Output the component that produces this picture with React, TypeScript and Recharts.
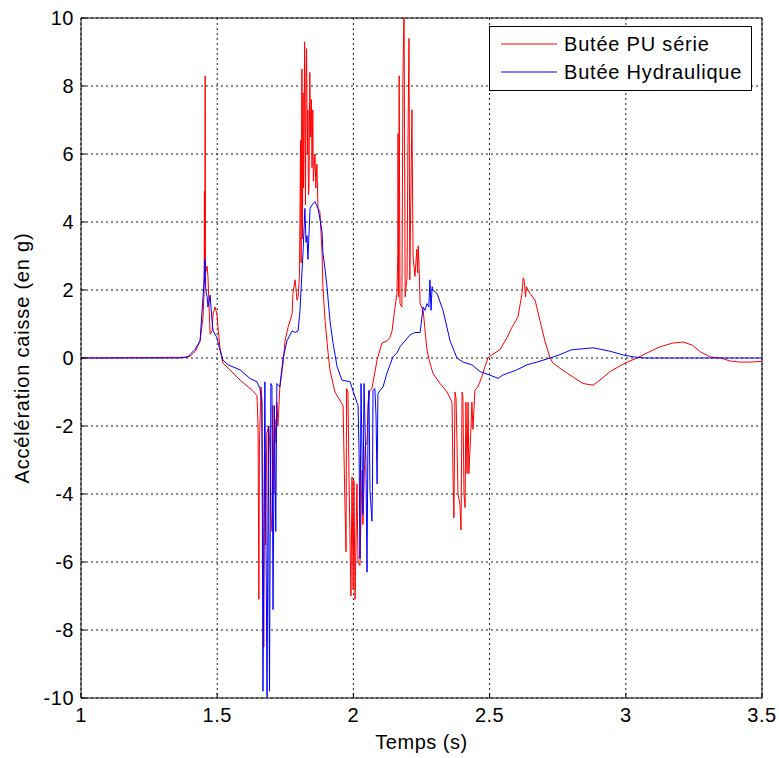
import { LineChart, Line, XAxis, YAxis, CartesianGrid, ReferenceLine, Legend } from "recharts";

const FONT = "Arial, 'Liberation Sans', sans-serif";

const timeTicks = [1, 1.5, 2, 2.5, 3, 3.5];
const accelTicks = [-10, -8, -6, -4, -2, 0, 2, 4, 6, 8, 10];

const seriesNames = ["Butée PU série", "Butée Hydraulique"];
const seriesColors = ["#ff0000", "#0000ff"];

// Butée PU série (red)
const puTime = [
  1.0, 1.38, 1.4, 1.42, 1.437, 1.448, 1.452, 1.453, 1.454, 1.456, 1.457, 1.463, 1.466, 1.474, 1.481,
  1.485, 1.492, 1.499, 1.503, 1.51, 1.521, 1.547, 1.584, 1.628, 1.646, 1.65, 1.653, 1.655, 1.661,
  1.664, 1.667, 1.671, 1.674, 1.678, 1.682, 1.69, 1.694, 1.697, 1.701, 1.704, 1.708, 1.712, 1.716,
  1.719, 1.723, 1.73, 1.742, 1.749, 1.76, 1.775, 1.778, 1.782, 1.786, 1.793, 1.797, 1.802, 1.806,
  1.808, 1.811, 1.813, 1.815, 1.817, 1.819, 1.821, 1.824, 1.826, 1.828, 1.831, 1.833, 1.835, 1.837,
  1.84, 1.843, 1.846, 1.848, 1.851, 1.853, 1.855, 1.859, 1.862, 1.866, 1.87, 1.877, 1.885, 1.888,
  1.896, 1.907, 1.914, 1.932, 1.962, 1.969, 1.973, 1.975, 1.98, 1.984, 1.991, 1.995, 1.999, 2.002,
  2.006, 2.013, 2.017, 2.024, 2.032, 2.035, 2.043, 2.05, 2.054, 2.061, 2.068, 2.087, 2.098, 2.105,
  2.123, 2.134, 2.142, 2.145, 2.153, 2.16, 2.163, 2.164, 2.166, 2.168, 2.171, 2.178, 2.182, 2.186,
  2.19, 2.197, 2.2, 2.204, 2.207, 2.215, 2.219, 2.226, 2.233, 2.236, 2.238, 2.241, 2.245, 2.256,
  2.27, 2.281, 2.292, 2.318, 2.344, 2.362, 2.366, 2.369, 2.373, 2.377, 2.384, 2.391, 2.395, 2.399,
  2.402, 2.406, 2.41, 2.413, 2.417, 2.421, 2.424, 2.432, 2.435, 2.439, 2.446, 2.457, 2.472, 2.483,
  2.494, 2.509, 2.538, 2.564, 2.582, 2.604, 2.619, 2.623, 2.627, 2.632, 2.635, 2.648, 2.667, 2.685,
  2.703, 2.722, 2.733, 2.758, 2.795, 2.843, 2.88, 2.905, 2.942, 2.997, 3.041, 3.078, 3.126, 3.173,
  3.21, 3.244, 3.274, 3.31, 3.347, 3.384, 3.419, 3.457, 3.5,
];
const puAccel = [
  0, 0.02, 0.05, 0.2, 0.5, 1.2, 2.0, 4.9, 2.2, 8.3, 2.5, 2.7, 2.4, 0.7, 0.8,
  1.3, 1.5, 1.3, 0.9, 0.3, -0.15, -0.35, -0.65, -0.95, -1.1, -2.0, -7.1, -2.5, -0.85,
  -1.2, -4.0, -8.5, -2.8, -5.5, -2.2, -2.0, -2.8, -4.5, -5.1, -1.4, -4.0, -1.8, -2.5,
  -1.3, -2.0, -0.85, -0.15, 0.5, 0.9, 1.3, 1.9, 2.1, 2.3, 1.7, 1.8, 2.4, 6.4,
  2.8, 8.5, 3.5, 7.8, 5.0, 6.9, 9.3, 4.5, 8.2, 9.1, 6.0, 7.3, 4.8, 5.0,
  8.4, 6.5, 7.6, 5.6, 7.3, 5.2, 5.5, 6.0, 5.0, 5.7, 4.4, 4.3, 3.1, 2.1,
  1.1, 0.15, -0.35, -1.0, -1.4, -4.3, -5.7, -0.9, -1.0, -3.6, -7.0, -3.5, -6.8, -3.6,
  -7.1, -3.7, -6.0, -6.1, -3.3, -4.9, -2.6, -2.5, -1.3, -0.95, -0.9, -0.05, 0.25, 0.44,
  0.5, 0.6, 0.8, 1.0, 1.5, 1.9, 3.1, 6.6, 1.8, 8.3, 1.6, 1.5, 8.3, 10.5,
  1.8, 2.4, 6.1, 9.4, 2.3, 7.3, 3.0, 2.4, 3.2, 2.5, 3.3, 2.7, 1.6, 1.4,
  0.24, -0.15, -0.45, -0.75, -1.0, -1.3, -3.6, -4.7, -1.0, -1.2, -4.0, -4.3, -5.06, -1.0,
  -1.15, -4.0, -4.4, -1.3, -3.4, -1.3, -3.4, -2.0, -1.3, -2.1, -0.95, -0.85, -0.55, -0.25,
  0.0, 0.1, 0.24, 0.6, 0.9, 1.2, 1.9, 2.35, 2.3, 1.8, 2.1, 1.9, 1.7, 1.1,
  0.5, 0.0, -0.15, -0.3, -0.5, -0.75, -0.8, -0.65, -0.4, -0.15, 0.0, 0.15, 0.33, 0.44,
  0.47, 0.38, 0.18, 0.03, 0.0, -0.09, -0.12, -0.12, -0.1,
];

// Butée Hydraulique (blue)
const hydTime = [
  1.0, 1.36, 1.393, 1.4, 1.418, 1.437, 1.448, 1.452, 1.455, 1.458, 1.463, 1.466, 1.474, 1.481,
  1.485, 1.499, 1.51, 1.521, 1.54, 1.584, 1.62, 1.646, 1.657, 1.664, 1.668, 1.675, 1.683, 1.688,
  1.692, 1.697, 1.701, 1.705, 1.71, 1.715, 1.719, 1.73, 1.742, 1.756, 1.775, 1.786, 1.797, 1.804,
  1.811, 1.815, 1.822, 1.826, 1.83, 1.833, 1.841, 1.848, 1.859, 1.87, 1.877, 1.885, 1.888, 1.896,
  1.903, 1.914, 1.925, 1.94, 1.958, 1.988, 2.006, 2.017, 2.021, 2.024, 2.028, 2.035, 2.039, 2.046,
  2.05, 2.054, 2.057, 2.061, 2.068, 2.07, 2.072, 2.079, 2.083, 2.087, 2.09, 2.098, 2.109, 2.123,
  2.145, 2.16, 2.171, 2.208, 2.226, 2.245, 2.256, 2.263, 2.27, 2.277, 2.281, 2.285, 2.289, 2.292,
  2.307, 2.329, 2.355, 2.38, 2.402, 2.435, 2.465, 2.5, 2.531, 2.549, 2.6, 2.637, 2.674, 2.722,
  2.758, 2.8, 2.88, 2.942, 2.99, 3.03, 3.07, 3.5,
];
const hydAccel = [
  0, 0, 0.03, 0.1, 0.25, 0.5, 1.8, 2.3, 2.9, 2.0, 1.8, 1.5, 1.85, 1.1,
  0.8, 0.6, 0.24, -0.06, -0.2, -0.35, -0.6, -0.7, -0.9, -1.3, -9.8, -0.7, -9.97, -2.0,
  -9.8, -0.75, -0.8, -7.4, -1.4, -5.1, -0.75, -0.85, 0.0, 0.5, 0.8, 0.75, 0.8, 1.4,
  2.5, 3.1, 4.4, 3.4, 3.6, 2.9, 4.4, 4.5, 4.6, 4.4, 4.1, 3.7, 3.1, 2.6,
  2.1, 1.1, 0.45, -0.25, -0.65, -0.7, -1.15, -1.4, -2.8, -5.9, -0.75, -4.6, -0.75, -3.1,
  -6.3, -1.6, -0.95, -3.9, -4.8, -3.9, -0.95, -0.9, -1.7, -3.7, -1.05, -0.95, -0.85, -0.45,
  0.03, 0.15, 0.33, 0.68, 0.75, 0.75, 1.5, 1.4, 1.6, 1.5, 2.3, 1.4, 2.1, 2.0,
  1.9, 1.4, 0.5, 0.0, -0.12, -0.2, -0.4, -0.5, -0.6, -0.5, -0.35, -0.2, -0.12, 0.0,
  0.1, 0.24, 0.3, 0.2, 0.09, 0.03, 0.0, 0.0,
];

const puData = puTime.map((t, i) => ({ t, v: puAccel[i] }));
const hydData = hydTime.map((t, i) => ({ t, v: hydAccel[i] }));

const tickStyle = { fill: "#000", fontSize: 20, fontFamily: FONT, letterSpacing: 0.5 };

function LegendBox() {
  return (
    <svg width={264} height={66} style={{ display: "block" }}>
      <rect x={0.5} y={0.5} width={262} height={64} fill="#fff" stroke="#000" />
      {seriesNames.map((name, i) => (
        <g key={name}>
          <line x1={12} x2={68} y1={18 + i * 28} y2={18 + i * 28} stroke={seriesColors[i]} strokeWidth={1} />
          <text
            x={75}
            y={18 + i * 28}
            dominantBaseline="central"
            fontFamily={FONT}
            fontSize={20}
            letterSpacing={0.8}
            fill="#000"
          >
            {name}
          </text>
        </g>
      ))}
    </svg>
  );
}

export default function App() {
  return (
    <div style={{ position: "absolute", left: 0, top: 0, background: "#fff" }}>
      <LineChart width={779} height={758} margin={{ top: 18, right: 17, bottom: 0, left: 21 }}>
        <CartesianGrid stroke="#1a1a1a" strokeDasharray="2 3" />
        <XAxis
          type="number"
          dataKey="t"
          domain={[1, 3.5]}
          ticks={timeTicks}
          allowDataOverflow
          height={60}
          stroke="#000"
          tickSize={-5}
          tickMargin={15}
          tick={tickStyle}
          label={(props: any) => {
            const vb = props.viewBox;
            return (
              <text
                x={vb.x + vb.width / 2}
                y={749}
                textAnchor="middle"
                fontFamily={FONT}
                fontSize={20}
                letterSpacing={0.5}
                fill="#000"
              >
                Temps (s)
              </text>
            );
          }}
        />
        <YAxis
          type="number"
          domain={[-10, 10]}
          ticks={accelTicks}
          allowDataOverflow
          width={60}
          stroke="#000"
          tickSize={-5}
          tickMargin={12}
          tick={tickStyle}
          label={(props: any) => {
            const vb = props.viewBox;
            const cy = vb.y + vb.height / 2;
            return (
              <text
                x={22}
                y={cy}
                transform={`rotate(-90 22 ${cy})`}
                textAnchor="middle"
                dominantBaseline="central"
                fontFamily={FONT}
                fontSize={20}
                letterSpacing={0.8}
                fill="#000"
              >
                Accélération caisse (en g)
              </text>
            );
          }}
        />
        <ReferenceLine y={10} stroke="#000" />
        <ReferenceLine x={3.5} stroke="#000" />
        <Line
          data={puData}
          dataKey="v"
          name={seriesNames[0]}
          stroke={seriesColors[0]}
          strokeWidth={1}
          dot={false}
          type="linear"
          isAnimationActive={false}
        />
        <Line
          data={hydData}
          dataKey="v"
          name={seriesNames[1]}
          stroke={seriesColors[1]}
          strokeWidth={1}
          dot={false}
          type="linear"
          isAnimationActive={false}
        />
        <Legend
          layout="vertical"
          align="center"
          verticalAlign="middle"
          content={() => <LegendBox />}
          wrapperStyle={{ position: "absolute", left: 489, top: 26, width: 264, height: 66 }}
        />
      </LineChart>
    </div>
  );
}
